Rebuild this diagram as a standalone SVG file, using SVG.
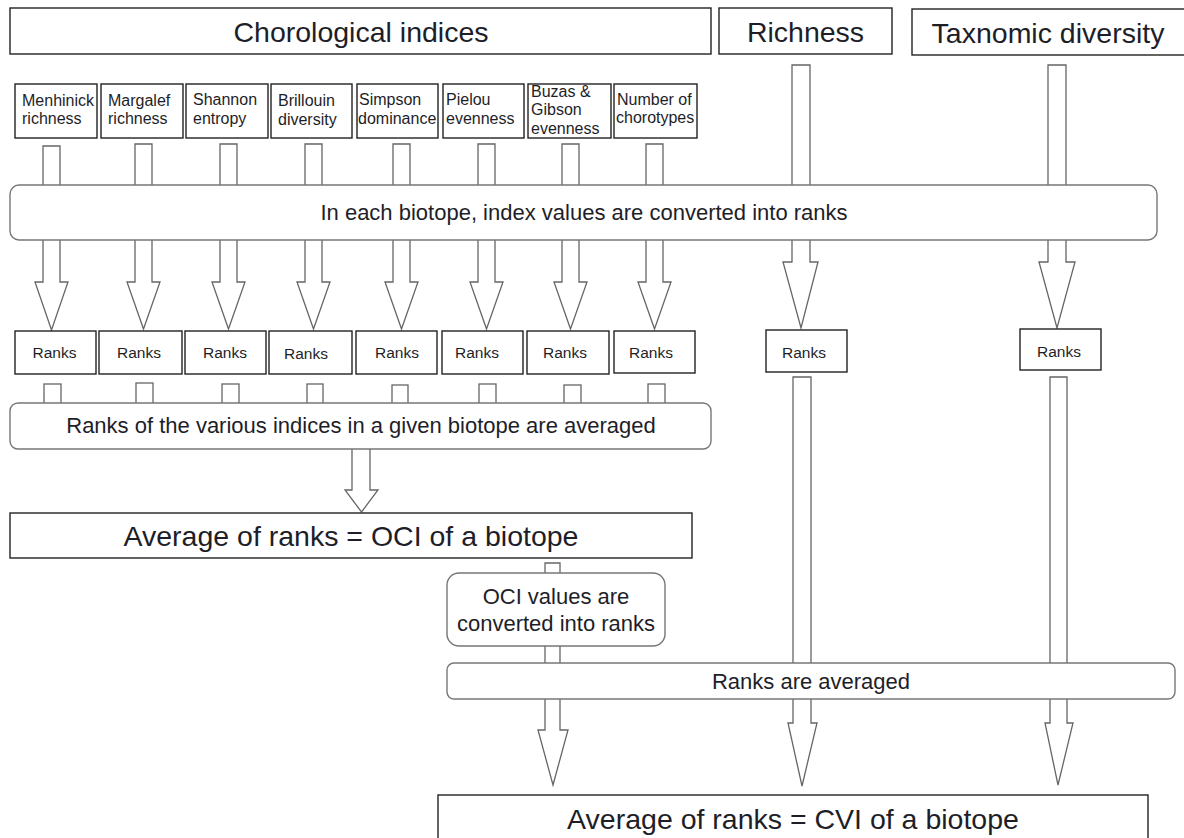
<svg xmlns="http://www.w3.org/2000/svg" width="1184" height="838" viewBox="0 0 1184 838">
<style>
.box{fill:#fff;stroke:#222;stroke-width:1.4}
.rbox{fill:#fff;stroke:#777;stroke-width:1.4}
.arr{fill:#fff;stroke:#666;stroke-width:1.3;stroke-linejoin:miter}
text{font-family:"Liberation Sans",Arial,sans-serif;fill:#1e1e28}
.t28{font-size:28.5px;text-anchor:middle}
.t22{font-size:22px;text-anchor:middle}
.t16{font-size:16px}
.rk{font-size:15.5px;text-anchor:middle}
</style>
<rect width="1184" height="838" fill="#fff"/>
<g id="connectors">
<!-- index arrows: stem from y144, head at 282, tip 329 -->
<polygon class="arr" points="43,146 60,146 60,282 68,282 51.5,330 35,282 43,282"/>
<polygon class="arr" points="135,144 152,144 152,282 160,282 143.5,329 127,282 135,282"/>
<polygon class="arr" points="220,144 237,144 237,282 245,282 228.5,329 212,282 220,282"/>
<polygon class="arr" points="305,144 322,144 322,282 330,282 313.5,329 297,282 305,282"/>
<polygon class="arr" points="393,144 410,144 410,282 418,282 401.5,329 385,282 393,282"/>
<polygon class="arr" points="478,144 495,144 495,282 503,282 486.5,329 470,282 478,282"/>
<polygon class="arr" points="562,144 579,144 579,282 587,282 570.5,329 554,282 562,282"/>
<polygon class="arr" points="646,144 663,144 663,282 671,282 654.5,329 638,282 646,282"/>
<!-- richness / taxonomic top arrows -->
<polygon class="arr" points="792,65 810,65 810,262 818,262 801,328 783,262 792,262"/>
<polygon class="arr" points="1048,65 1066,65 1066,262 1075,262 1057,328 1039,262 1048,262"/>
<!-- stubs below ranks -->
<rect class="arr" x="44" y="384" width="17" height="30"/>
<rect class="arr" x="136" y="383" width="17" height="30"/>
<rect class="arr" x="222" y="384" width="17" height="30"/>
<rect class="arr" x="307" y="384" width="16" height="30"/>
<rect class="arr" x="392" y="385" width="16" height="30"/>
<rect class="arr" x="479" y="384" width="17" height="30"/>
<rect class="arr" x="564" y="385" width="17" height="30"/>
<rect class="arr" x="648" y="384" width="17" height="30"/>
<!-- averaged -> OCI -->
<polygon class="arr" points="352,440 370,440 370,490 378,490 361.5,512 345,490 352,490"/>
<!-- OCI -> CVI -->
<polygon class="arr" points="545,563 560,563 560,730 568,730 553,785 538,730 545,730"/>
<!-- richness long -->
<polygon class="arr" points="793,377 811,377 811,723 817,723 802,786 788,723 793,723"/>
<!-- taxonomic long -->
<polygon class="arr" points="1050,377 1067,377 1067,723 1073,723 1058,785 1045,723 1050,723"/>
</g>
<g id="n-choro"><rect class="box" x="10" y="8" width="701" height="46"/><text class="t28" x="361" y="42">Chorological indices</text></g>
<g id="n-rich"><rect class="box" x="719" y="8" width="173" height="46"/><text class="t28" x="805.5" y="42">Richness</text></g>
<g id="n-taxo"><rect class="box" x="912" y="9" width="280" height="46"/><text class="t28" x="1048" y="43">Taxnomic diversity</text></g>

<g id="n-menh"><rect class="box" x="15" y="84" width="82" height="54"/><text class="t16" x="22" y="106">Menhinick</text><text class="t16" x="22" y="124">richness</text></g>
<g id="n-marg"><rect class="box" x="101" y="84" width="82" height="54"/><text class="t16" x="108" y="106">Margalef</text><text class="t16" x="108" y="124">richness</text></g>
<g id="n-shan"><rect class="box" x="186" y="84" width="82" height="54"/><text class="t16" x="193" y="105">Shannon</text><text class="t16" x="193" y="124">entropy</text></g>
<g id="n-bril"><rect class="box" x="271" y="84" width="81" height="54"/><text class="t16" x="278" y="106">Brillouin</text><text class="t16" x="278" y="125">diversity</text></g>
<g id="n-simp"><rect class="box" x="357" y="84" width="81" height="54"/><text class="t16" x="359" y="105">Simpson</text><text class="t16" x="358" y="124">dominance</text></g>
<g id="n-piel"><rect class="box" x="443" y="84" width="81" height="54"/><text class="t16" x="446" y="105">Pielou</text><text class="t16" x="446" y="124">evenness</text></g>
<g id="n-buza"><rect class="box" x="528" y="84" width="83" height="54"/><text class="t16" x="531" y="97">Buzas &amp;</text><text class="t16" x="531" y="115">Gibson</text><text class="t16" x="531" y="134">evenness</text></g>
<g id="n-numb"><rect class="box" x="614" y="84" width="83" height="54"/><text class="t16" x="617" y="105">Number of</text><text class="t16" x="616" y="123">chorotypes</text></g>

<g id="n-convert"><rect class="rbox" x="10" y="185" width="1147" height="55" rx="9"/><text class="t22" x="584" y="220">In each biotope, index values are converted into ranks</text></g>

<g id="n-r1"><rect class="box" x="15" y="331" width="81" height="43"/><text class="rk" x="54.5" y="358">Ranks</text></g>
<g id="n-r2"><rect class="box" x="99" y="331" width="83" height="43"/><text class="rk" x="139" y="358">Ranks</text></g>
<g id="n-r3"><rect class="box" x="185" y="331" width="81" height="43"/><text class="rk" x="225" y="358">Ranks</text></g>
<g id="n-r4"><rect class="box" x="269" y="331" width="83" height="43"/><text class="rk" x="306" y="359">Ranks</text></g>
<g id="n-r5"><rect class="box" x="356" y="331" width="81" height="43"/><text class="rk" x="397" y="358">Ranks</text></g>
<g id="n-r6"><rect class="box" x="442" y="331" width="81" height="43"/><text class="rk" x="477" y="358">Ranks</text></g>
<g id="n-r7"><rect class="box" x="527" y="331" width="82" height="43"/><text class="rk" x="565" y="358">Ranks</text></g>
<g id="n-r8"><rect class="box" x="614" y="331" width="81" height="42"/><text class="rk" x="651" y="358">Ranks</text></g>
<g id="n-r9"><rect class="box" x="766" y="330" width="81" height="42"/><text class="rk" x="804" y="358">Ranks</text></g>
<g id="n-r10"><rect class="box" x="1020" y="329" width="81" height="41"/><text class="rk" x="1059" y="357">Ranks</text></g>

<g id="n-avg"><rect class="rbox" x="10" y="403" width="701" height="46" rx="8"/><text class="t22" x="361" y="433">Ranks of the various indices in a given biotope are averaged</text></g>
<g id="n-oci"><rect class="box" x="10" y="513" width="682" height="45"/><text class="t28" x="351" y="546">Average of ranks = OCI of a biotope</text></g>
<g id="n-ociconv"><rect class="rbox" x="447" y="573" width="218" height="73" rx="12"/><text class="t22" x="556" y="604">OCI values are</text><text class="t22" x="556" y="631">converted into ranks</text></g>
<g id="n-ravg"><rect class="rbox" x="447" y="663" width="728" height="36" rx="7"/><text class="t22" x="811" y="689">Ranks are averaged</text></g>
<g id="n-cvi"><rect class="box" x="438" y="795" width="710" height="60"/><text class="t28" x="793" y="829">Average of ranks = CVI of a biotope</text></g>
</svg>
